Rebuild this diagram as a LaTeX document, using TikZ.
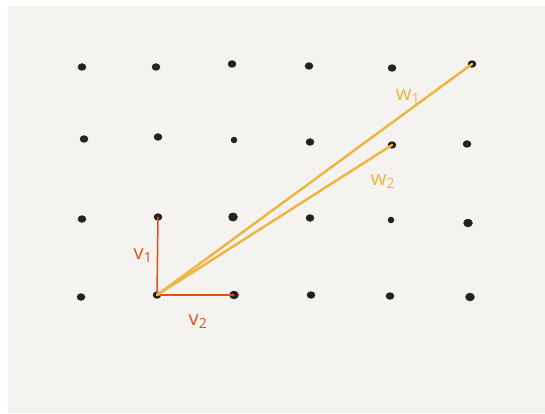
\documentclass[tikz,border=0pt]{standalone}
\usepackage{fontspec}
\usetikzlibrary{shapes.geometric}
\setsansfont{Open Sans}
\definecolor{panel}{HTML}{F4F3F0}
\definecolor{dotc}{HTML}{222222}
\definecolor{vcol}{HTML}{E0501C}
\definecolor{wcol}{HTML}{F0B43E}
\begin{document}
\begin{tikzpicture}[x=1pt,y=-1pt,
  dotn/.style={ellipse,fill=dotc,inner sep=0pt,minimum width=8.5pt,minimum height=7.5pt},
  vline/.style={draw=vcol,line width=1.5pt},
  wline/.style={draw=wcol,line width=2.4pt,line cap=round},
  vlab/.style={text=vcol,font=\sffamily\fontsize{20}{20}\selectfont},
  wlab/.style={text=wcol,font=\sffamily\fontsize{20}{20}\selectfont}]
\useasboundingbox (0,0) rectangle (545,414);
\fill[white] (0,0) rectangle (545,414);
\fill[panel] (8,6) rectangle (545,413);
% row 1
\node[dotn] (a1) at (82,67) {};
\node[dotn] (a2) at (156,67) {};
\node[dotn] (a3) at (232,64) {};
\node[dotn] (a4) at (309,66) {};
\node[dotn] (a5) at (392,68) {};
\node[dotn] (a6) at (472,64) {};
% row 2
\node[dotn] (b1) at (84,139) {};
\node[dotn] (b2) at (158,137) {};
\node[dotn,minimum width=6.5pt,minimum height=6.5pt] (b3) at (234,140) {};
\node[dotn] (b4) at (310,142) {};
\node[dotn] (b5) at (392,145) {};
\node[dotn] (b6) at (467,144) {};
% row 3
\node[dotn] (c1) at (82,219) {};
\node[dotn] (c2) at (158,217) {};
\node[dotn,minimum width=9.5pt,minimum height=9pt] (c3) at (233,217) {};
\node[dotn] (c4) at (310,218) {};
\node[dotn,minimum width=6.5pt,minimum height=6.5pt] (c5) at (391,220) {};
\node[dotn,minimum width=9.5pt,minimum height=8.5pt] (c6) at (468,223) {};
% row 4
\node[dotn] (d1) at (81,297) {};
\node[dotn] (d2) at (157,295) {};
\node[dotn,minimum width=9.5pt,minimum height=8.5pt] (d3) at (234,295) {};
\node[dotn] (d4) at (311,295) {};
\node[dotn] (d5) at (390,296) {};
\node[dotn,minimum width=9.5pt,minimum height=8.5pt] (d6) at (470,297) {};
% vectors
\draw[vline] (d2.center) -- (c2.center);
\draw[vline] (d2.center) -- (d3.center);
\draw[wline] (d2.center) -- (a6.center);
\draw[wline] (d2.center) -- (b5.center);
% labels
\node[vlab] (lv1) at (143,256) {v\textsubscript{1}};
\node[vlab] (lv2) at (198,322) {v\textsubscript{2}};
\node[wlab] (lw1) at (408,97) {w\textsubscript{1}};
\node[wlab] (lw2) at (383,182) {w\textsubscript{2}};
\end{tikzpicture}
\end{document}
